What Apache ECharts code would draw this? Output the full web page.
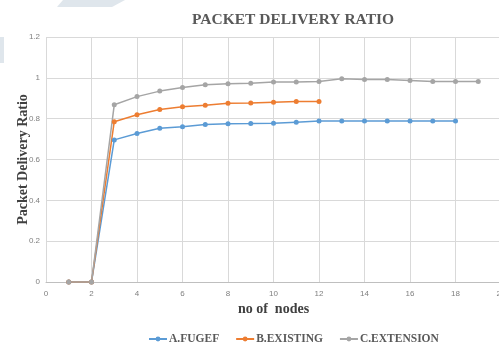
<!DOCTYPE html>
<html>
<head>
<meta charset="utf-8">
<script src="https://cdn.jsdelivr.net/npm/echarts@6/dist/echarts.min.js"></script>
<style>
  html, body { margin: 0; padding: 0; background: #ffffff; }
  #chart { width: 499px; height: 347px; }
</style>
</head>
<body>
<div id="chart"></div>
<script>
// Node counts (x) and delivery ratios for each scheme
const nodesFugef = [1, 2, 3, 4, 5, 6, 7, 8, 9, 10, 11, 12, 13, 14, 15, 16, 17, 18];
const fugef = [0, 0, 0.696, 0.727, 0.753, 0.761, 0.771, 0.775, 0.776, 0.778, 0.783, 0.788, 0.788, 0.788, 0.788, 0.788, 0.788, 0.788];

const nodesExisting = [1, 2, 3, 4, 5, 6, 7, 8, 9, 10, 11, 12];
const existing = [0, 0, 0.785, 0.819, 0.845, 0.858, 0.866, 0.876, 0.877, 0.881, 0.884, 0.884];

const nodesExtension = [1, 2, 3, 4, 5, 6, 7, 8, 9, 10, 11, 12, 13, 14, 15, 16, 17, 18, 19];
const extension = [0, 0, 0.868, 0.908, 0.935, 0.953, 0.966, 0.971, 0.974, 0.979, 0.979, 0.982, 0.995, 0.992, 0.992, 0.987, 0.982, 0.982, 0.982];

const seriesNames = ['A.FUGEF', 'B.EXISTING', 'C.EXTENSION'];
const seriesColors = ['#5b9bd5', '#ed7d31', '#a5a5a5'];

const pairs = (xs, ys) => xs.map((x, i) => [x, ys[i]]);

const serif = '"Liberation Serif", "DejaVu Serif", serif';
const sans = '"Liberation Sans", "DejaVu Sans", sans-serif';

const chart = echarts.init(document.getElementById('chart'), null, { renderer: 'canvas' });

function lineSeries(name, data, color) {
  return {
    name: name,
    type: 'line',
    data: data,
    symbol: 'circle',
    symbolSize: 5,
    lineStyle: { color: color, width: 1.5 },
    itemStyle: { color: color },
    emphasis: { disabled: true },
    animation: false
  };
}

chart.setOption({
  animation: false,
  backgroundColor: '#ffffff',
  graphic: [
    {
      type: 'polygon',
      shape: { points: [[63, 0], [125, 0], [112, 7], [57, 7]] },
      style: { fill: '#dfe6ec' },
      silent: true
    },
    {
      type: 'rect',
      shape: { x: 0, y: 37, width: 4, height: 26 },
      style: { fill: '#dfe6ec' },
      silent: true
    }
  ],
  title: {
    text: 'PACKET DELIVERY RATIO',
    left: 288,
    textAlign: 'center',
    top: 7,
    textStyle: { fontFamily: serif, fontWeight: 'bold', fontSize: 15.5, color: '#595959' }
  },
  legend: {
    data: seriesNames,
    bottom: -3,
    left: 143,
    itemWidth: 18,
    itemHeight: 6,
    itemGap: 16,
    textStyle: { fontFamily: serif, fontWeight: 'bold', fontSize: 11.5, color: '#595959', padding: [0, 0, 0, -3] }
  },
  grid: { left: 46, right: -2, top: 37, bottom: 65, containLabel: false, outerBoundsMode: 'none' },
  xAxis: {
    type: 'value',
    min: 0,
    max: 20,
    interval: 2,
    name: 'no of  nodes',
    nameLocation: 'middle',
    nameGap: 20,
    nameMoveOverlap: false,
    nameTextStyle: { fontFamily: serif, fontWeight: 'bold', fontSize: 14, color: '#404040' },
    axisLine: { show: true, lineStyle: { color: '#bfbfbf', width: 1 } },
    axisTick: { show: false },
    axisLabel: { fontFamily: sans, fontSize: 8, color: '#7f7f7f', margin: 8, showMaxLabel: true },
    splitLine: { show: true, lineStyle: { color: '#d9d9d9', width: 1 } }
  },
  yAxis: {
    type: 'value',
    min: 0,
    max: 1.2,
    interval: 0.2,
    name: 'Packet Delivery Ratio',
    nameLocation: 'middle',
    nameGap: 16,
    nameRotate: 90,
    nameMoveOverlap: false,
    nameTextStyle: { fontFamily: serif, fontWeight: 'bold', fontSize: 14, color: '#404040' },
    axisLine: { show: false },
    axisTick: { show: false },
    axisLabel: { fontFamily: sans, fontSize: 8, color: '#7f7f7f', margin: 6 },
    splitLine: { show: true, lineStyle: { color: '#d9d9d9', width: 1 } }
  },
  series: [
    lineSeries(seriesNames[0], pairs(nodesFugef, fugef), seriesColors[0]),
    lineSeries(seriesNames[1], pairs(nodesExisting, existing), seriesColors[1]),
    lineSeries(seriesNames[2], pairs(nodesExtension, extension), seriesColors[2])
  ]
});
</script>
</body>
</html>
